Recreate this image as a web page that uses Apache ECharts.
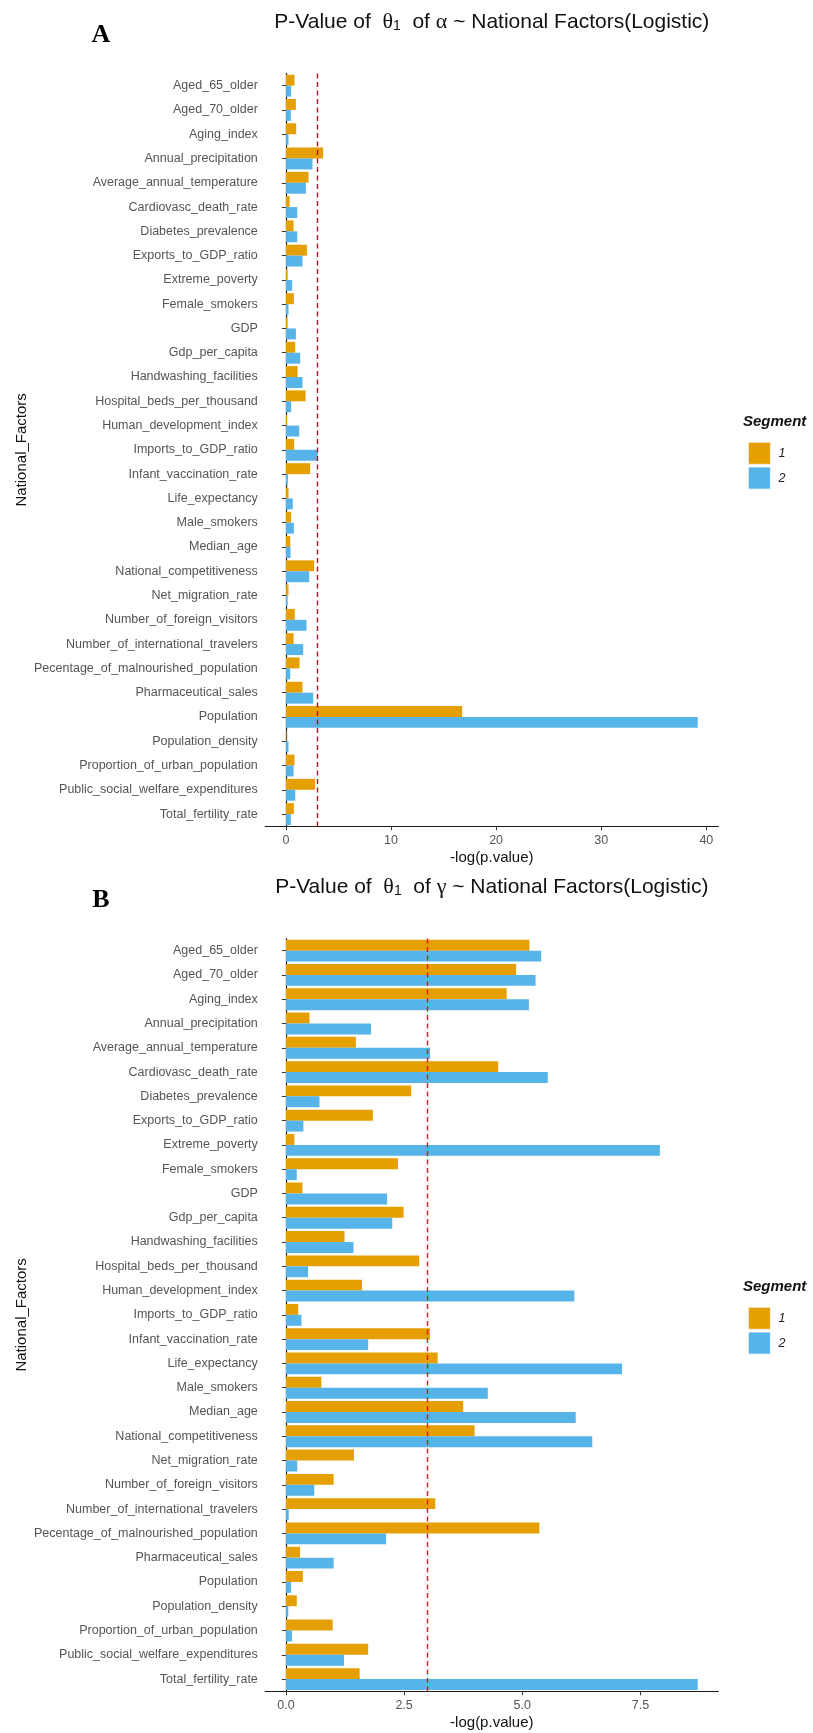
<!DOCTYPE html>
<html>
<head>
<meta charset="utf-8">
<script src="https://cdn.jsdelivr.net/npm/echarts@6/dist/echarts.min.js"></script>
<style>
  html, body { margin: 0; padding: 0; background: #ffffff; }
  #chart { width: 813px; height: 1733px; }
</style>
</head>
<body>
<div id="chart"></div>
<script>
// National factors tested against the logistic-fit parameters
const categories = [
  'Aged_65_older', 'Aged_70_older', 'Aging_index', 'Annual_precipitation',
  'Average_annual_temperature', 'Cardiovasc_death_rate', 'Diabetes_prevalence',
  'Exports_to_GDP_ratio', 'Extreme_poverty', 'Female_smokers', 'GDP',
  'Gdp_per_capita', 'Handwashing_facilities', 'Hospital_beds_per_thousand',
  'Human_development_index', 'Imports_to_GDP_ratio', 'Infant_vaccination_rate',
  'Life_expectancy', 'Male_smokers', 'Median_age', 'National_competitiveness',
  'Net_migration_rate', 'Number_of_foreign_visitors', 'Number_of_international_travelers',
  'Pecentage_of_malnourished_population', 'Pharmaceutical_sales', 'Population',
  'Population_density', 'Proportion_of_urban_population',
  'Public_social_welfare_expenditures', 'Total_fertility_rate'
];

// -log(p.value) for theta_1 of alpha, per segment
const alphaSegment1 = [0.82, 0.95, 0.98, 3.54, 2.15, 0.35, 0.73, 2.00, 0.16, 0.76, 0.16,
  0.89, 1.11, 1.87, 0.10, 0.79, 2.31, 0.25, 0.50, 0.41, 2.69, 0.25, 0.85, 0.73, 1.30,
  1.58, 16.77, 0.06, 0.82, 2.78, 0.76];
const alphaSegment2 = [0.50, 0.47, 0.25, 2.53, 1.90, 1.08, 1.08, 1.58, 0.60, 0.25, 0.95,
  1.36, 1.58, 0.50, 1.27, 3.04, 0.19, 0.66, 0.76, 0.44, 2.22, 0.16, 1.96, 1.65, 0.41,
  2.60, 39.18, 0.25, 0.73, 0.89, 0.47];

// -log(p.value) for theta_1 of gamma, per segment
const gammaSegment1 = [5.15, 4.87, 4.67, 0.50, 1.48, 4.49, 2.65, 1.84, 0.18, 2.37, 0.35,
  2.49, 1.24, 2.82, 1.61, 0.26, 3.05, 3.21, 0.75, 3.75, 3.99, 1.44, 1.01, 3.16, 5.36,
  0.30, 0.36, 0.23, 0.99, 1.74, 1.56];
const gammaSegment2 = [5.40, 5.28, 5.14, 1.80, 3.05, 5.54, 0.71, 0.37, 7.91, 0.23, 2.14,
  2.25, 1.43, 0.47, 6.10, 0.33, 1.74, 7.11, 4.27, 6.13, 6.48, 0.24, 0.60, 0.06, 2.12,
  1.01, 0.11, 0.05, 0.13, 1.23, 8.71];

const alphaTicks = [0, 10, 20, 30, 40];
const gammaTicks = [0, 2.5, 5, 7.5];
const segmentNames = ['1', '2'];
const threshold = 3;   // -log(0.05)

const COLORS = ['#E69F00', '#56B4E9'];
const SANS = '"Liberation Sans", Arial, sans-serif';
const SERIF = '"Liberation Serif", "Times New Roman", serif';

// Panel geometry: one row per factor, 0.6 band of padding top and bottom
const BAND = 24.28;
const PLOT_LEFT = 265.3, PLOT_RIGHT = 718.3;
const PANELS = [
  { top: 71.1, letter: 'A', symbol: 'α', s1: alphaSegment1, s2: alphaSegment2,
    ticks: alphaTicks, fmt: v => String(v), line: '#b3141c' },
  { top: 936.1, letter: 'B', symbol: 'γ', s1: gammaSegment1, s2: gammaSegment2,
    ticks: gammaTicks, fmt: v => v.toFixed(1), line: '#e0181c' }
];

function paddedRange(a, b) {
  const hi = Math.max(...a, ...b);
  return [-0.05 * hi, hi * 1.05];
}

const grids = [], xAxes = [], yAxes = [], series = [], legends = [], graphics = [];

PANELS.forEach((p, i) => {
  const gridTop = p.top + 0.1 * BAND;
  const gridHeight = categories.length * BAND;
  const panelHeight = (categories.length + 0.2) * BAND;
  const panelMid = p.top + panelHeight / 2;
  const [xmin, xmax] = paddedRange(p.s1, p.s2);
  const titleY = p.top - 49;

  grids.push({
    left: PLOT_LEFT, width: PLOT_RIGHT - PLOT_LEFT,
    top: gridTop, height: gridHeight, containLabel: false
  });

  xAxes.push({
    type: 'value', gridIndex: i, min: xmin, max: xmax,
    splitLine: { show: false },
    axisLine: { show: true, onZero: false, lineStyle: { color: '#1a1a1a', width: 1.2 } },
    axisTick: { show: true, length: 4, customValues: p.ticks, lineStyle: { color: '#333', width: 1 } },
    axisLabel: {
      customValues: p.ticks, formatter: p.fmt, margin: 8,
      color: '#555', fontSize: 12.5, fontFamily: SANS
    },
    name: '-log(p.value)', nameLocation: 'middle', nameGap: 24,
    nameTextStyle: { color: '#111', fontSize: 15, fontFamily: SANS }
  });

  yAxes.push({
    type: 'category', gridIndex: i, data: categories, inverse: true,
    axisLine: { show: true, lineStyle: { color: '#1a1a1a', width: 1.2 } },
    axisTick: { show: true, length: 4, alignWithLabel: true, lineStyle: { color: '#333', width: 1 } },
    axisLabel: { margin: 7.5, color: '#555', fontSize: 12.5, fontFamily: SANS, interval: 0 },
    splitLine: { show: false }
  });

  [p.s1, p.s2].forEach((vals, k) => {
    const s = {
      type: 'bar', name: segmentNames[k], xAxisIndex: i, yAxisIndex: i,
      data: vals, barWidth: BAND * 0.45, barGap: '0%',
      itemStyle: { color: COLORS[k] },
      emphasis: { disabled: true },
      z: 2
    };
    if (k === 1) {
      s.markLine = {
        silent: true, symbol: 'none', animation: false,
        label: { show: false },
        lineStyle: { color: p.line, type: [5, 3.5], width: 1.4 },
        data: [{ xAxis: threshold }],
        z: 5
      };
    }
    series.push(s);
  });

  legends.push({
    data: segmentNames, orient: 'vertical', left: 743, top: panelMid - 13,
    itemWidth: 22, itemHeight: 22, itemGap: 2, icon: 'rect', selectedMode: false,
    textStyle: { fontStyle: 'italic', fontSize: 12.5, color: '#222', fontFamily: SANS, padding: [0, 0, 0, 3] },
    itemStyle: { borderColor: '#f4f4f4', borderWidth: 0.8 }
  });

  // Panel letter
  graphics.push({
    type: 'text', x: 101, y: titleY + 13,
    style: {
      text: p.letter, font: 'bold 26px ' + SERIF, fill: '#000',
      align: 'center', verticalAlign: 'middle'
    }
  });
  // Panel title with plotmath-style symbols
  graphics.push({
    type: 'text', x: (PLOT_LEFT + PLOT_RIGHT) / 2, y: titleY,
    style: {
      text: '{t|P-Value of  }{g|θ}{s|1}{t|  of }{g|' + p.symbol + '}{t| ~ National Factors(Logistic)}',
      align: 'center', verticalAlign: 'middle',
      rich: {
        t: { fontFamily: SANS, fontSize: 21, fill: '#111' },
        g: { fontFamily: SERIF, fontSize: 22, fill: '#111' },
        s: { fontFamily: SANS, fontSize: 14, fill: '#111', padding: [8, 0, 0, 0] }
      }
    }
  });
  // Y axis title
  graphics.push({
    type: 'text', x: 22, y: panelMid, rotation: Math.PI / 2,
    style: {
      text: 'National_Factors', font: '15px ' + SANS, fill: '#111',
      align: 'center', verticalAlign: 'middle'
    }
  });
  // Legend title
  graphics.push({
    type: 'text', left: 743, top: panelMid - 36,
    style: { text: 'Segment', font: 'italic bold 15px ' + SANS, fill: '#111' }
  });
});

const chart = echarts.init(document.getElementById('chart'), null, { renderer: 'canvas' });
chart.setOption({
  animation: false,
  backgroundColor: '#ffffff',
  grid: grids,
  xAxis: xAxes,
  yAxis: yAxes,
  series: series,
  legend: legends,
  graphic: graphics
});
</script>
</body>
</html>
